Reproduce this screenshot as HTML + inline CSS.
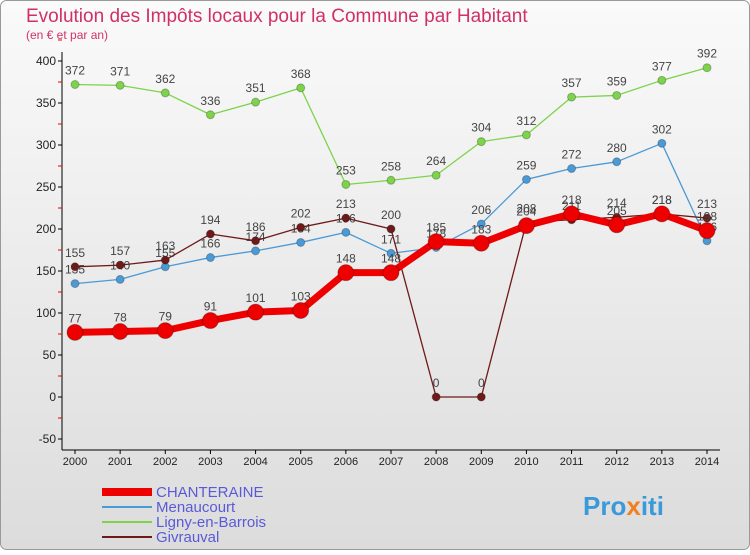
<!DOCTYPE html>
<html><head><meta charset="utf-8"><style>
body{margin:0;width:750px;height:550px;overflow:hidden;font-family:"Liberation Sans",sans-serif;}
</style></head><body>
<svg width="750" height="550" xmlns="http://www.w3.org/2000/svg">
<defs><linearGradient id="bg" x1="0" y1="0" x2="0" y2="1"><stop offset="0" stop-color="#fafafa"/><stop offset="1" stop-color="#dcdcdc"/></linearGradient></defs>
<rect x="0.5" y="0.5" width="749" height="549" rx="6" fill="url(#bg)" stroke="#999"/>
<text x="26" y="22" font-size="19" fill="#d0306a">Evolution des Impôts locaux pour la Commune par Habitant</text>
<text x="26" y="39" font-size="12" fill="#d0306a">(en € et par an)</text>
<g id="axes"></g>
<g id="series"></g>
<g id="legend" font-size="15"></g>
<text x="583" y="515" font-size="26" font-weight="bold" fill="#3a9ad9">Pro<tspan fill="#f08020">x</tspan>iti</text>
</svg>
<script>
const years=[2000,2001,2002,2003,2004,2005,2006,2007,2008,2009,2010,2011,2012,2013,2014];
const yTicks=[-50,0,50,100,150,200,250,300,350,400];
const chanteraine=[77,78,79,91,101,103,148,148,185,183,204,218,205,218,198];
const menaucourt=[135,140,155,166,174,184,196,171,178,206,259,272,280,302,186];
const ligny=[372,371,362,336,351,368,253,258,264,304,312,357,359,377,392];
const givrauval=[155,157,163,194,186,202,213,200,0,0,208,211,214,218,213];
const NS="http://www.w3.org/2000/svg";
const X=i=>75+i*(707-75)/14;
const Y=v=>397-v*0.84;
function el(t,a,p){const e=document.createElementNS(NS,t);for(const k in a)e.setAttribute(k,a[k]);p.appendChild(e);return e;}
const ax=document.getElementById('axes');
const yl=el('line',{x1:62,y1:52,x2:62,y2:450,stroke:'#000'},ax);


const xl=el('line',{x1:62,y1:450,x2:720,y2:450,stroke:'#000'},ax);


yTicks.forEach(v=>{
  el('line',{x1:58,y1:Y(v),x2:62,y2:Y(v),stroke:'#000'},ax);
  el('line',{x1:58,y1:Y(v+25),x2:62,y2:Y(v+25),stroke:'#e00'},ax);
  const t=el('text',{x:56,y:Y(v)+4,'text-anchor':'end','font-size':12,fill:'#222'},ax);
  t.textContent=v;
  
  
});
years.forEach((yr,i)=>{
  el('line',{x1:X(i),y1:450,x2:X(i),y2:454,stroke:'#000'},ax);
  const t=el('text',{x:X(i),y:465,'text-anchor':'middle','font-size':11,fill:'#222'},ax);
  t.textContent=yr;
  
  
});
const sg=document.getElementById('series');
function draw(data,color,w,r,name){
  const g=el('g',{},sg);
  
  
  const pl=el('polyline',{points:data.map((v,i)=>X(i)+','+Y(v)).join(' '),fill:'none',stroke:color,'stroke-width':w,'stroke-linejoin':'round'},g);
  
  
  data.forEach((v,i)=>{
    const c=el('circle',{cx:X(i),cy:Y(v),r:r,fill:color,stroke:'rgba(0,0,0,0.25)'},g);
    
    
    const t=el('text',{x:X(i),y:Y(v)-10,'text-anchor':'middle','font-size':12,fill:'#444'},g);
    t.textContent=v;
    
    
  });
}
draw(ligny,'#7dd34a',1.3,4,'ligny-en-barrois');
draw(menaucourt,'#4a9ad6',1.3,4,'menaucourt');
draw(givrauval,'#6e1a1a',1.3,4,'givrauval');
draw(chanteraine,'#ee0000',7,8,'chanteraine');
const lg=document.getElementById('legend');
const items=[['CHANTERAINE','#ee0000',8],['Menaucourt','#4a9ad6',2],['Ligny-en-Barrois','#7dd34a',2],['Givrauval','#6e1a1a',2]];
items.forEach((it,i)=>{
  const y=492+i*15;
  const l=el('line',{x1:102,y1:y,x2:152,y2:y,stroke:it[1],'stroke-width':it[2]},lg);
  
  
  const t=el('text',{x:156,y:y+5,fill:'#5a5ad8'},lg);
  t.textContent=it[0];
  
  
});
</script>
</body></html>
